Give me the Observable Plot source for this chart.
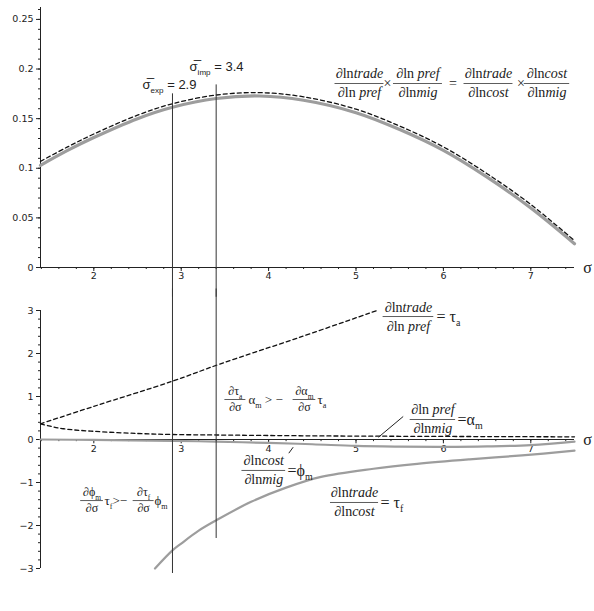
<!DOCTYPE html>
<html><head><meta charset="utf-8">
<script src="https://cdn.jsdelivr.net/npm/d3@7"></script>
<script src="https://cdn.jsdelivr.net/npm/@observablehq/plot@0.6"></script>
<style>
body{margin:0;background:#fff}
#chart{position:relative;width:594px;height:611px;background:#fff}
#chart svg{position:absolute;left:0}
</style>
</head><body><div id="chart"></div>
<script>
// ---------- data ----------
const sigmaTop = [1.39, 1.7, 2.0, 2.5, 2.9, 3.4, 3.9, 4.4, 5.0, 5.5, 6.0, 6.5, 7.0, 7.5];
const tradeMigModel = [0.103, 0.118, 0.131, 0.150, 0.1615, 0.1703, 0.1728, 0.1685, 0.156, 0.139, 0.118, 0.091, 0.060, 0.024];
const tradeMigProduct = [0.107, 0.1215, 0.1345, 0.1535, 0.165, 0.1738, 0.1762, 0.172, 0.1595, 0.1425, 0.1215, 0.0945, 0.0635, 0.027];

const sigmaTauA = [1.39, 2.0, 2.9, 3.45, 4.36, 5.24];
const tauA = [0.365, 0.77, 1.356, 1.76, 2.38, 3.0];

const sigmaAlpha = [1.39, 1.5, 1.65, 2.0, 2.5, 2.9, 3.4, 4.5, 5.5, 6.5, 7.5];
const alphaM = [0.365, 0.31, 0.25, 0.19, 0.14, 0.116, 0.105, 0.085, 0.075, 0.068, 0.062];

const sigmaPhi = [1.39, 2.0, 2.9, 3.4, 4.0, 4.5, 5.0, 5.5, 6.0, 6.5, 7.0, 7.5];
const phiM = [0, -0.01, -0.03, -0.05, -0.08, -0.11, -0.15, -0.165, -0.17, -0.16, -0.13, -0.05];

const sigmaTauF = [2.70, 2.9, 3.0, 3.2, 3.4, 3.8, 4.2, 4.6, 5.2, 5.7, 6.3, 6.9, 7.5];
const tauF = [-3.0, -2.58, -2.42, -2.12, -1.88, -1.45, -1.12, -0.87, -0.68, -0.565, -0.46, -0.37, -0.26];

const thresholdSigma = [2.9, 3.4];
const thresholdName = ["exp", "imp"];

const xMajorTicks = [2, 3, 4, 5, 6, 7];
const yTopTicks = [0, 0.05, 0.1, 0.15, 0.2, 0.25];
const yBottomTicks = [-3, -2, -1, 0, 1, 2, 3];

// ---------- annotations (data coordinates) ----------
const thresholdNotes = [
  {sigma: 2.9, top: 0.175, bottom: -3.116, lx: 2.866, ly: 0.1844},
  {sigma: 3.4, top: 0.184, bottom: -2.302, lx: 3.404, ly: 0.2025}
];
const topFractions = [
  {x: 5.040, y: 0.1854, w: 0.28, num: "∂ln*trade*", den: "∂ln *pref*"},
  {x: 5.709, y: 0.1854, w: 0.28, num: "∂ln *pref*", den: "∂ln*mig*"},
  {x: 6.516, y: 0.1854, w: 0.28, num: "∂ln*trade*", den: "∂ln*cost*"},
  {x: 7.185, y: 0.1854, w: 0.26, num: "∂ln*cost*", den: "∂ln*mig*"}
];
const topOperators = [
  {x: 5.360, y: 0.1854, text: "×"},
  {x: 6.110, y: 0.1854, text: "="},
  {x: 6.888, y: 0.1854, text: "×"}
];
const bottomFractions = [
  {x: 5.60, y: 2.86, w: 0.29, num: "∂ln*trade*", den: "∂ln *pref*"},
  {x: 5.88, y: 0.465, w: 0.26, num: "∂ln *pref*", den: "∂ln*mig*"},
  {x: 3.945, y: -0.72, w: 0.25, num: "∂ln*cost*", den: "∂ln*mig*"},
  {x: 4.983, y: -1.465, w: 0.275, num: "∂ln*trade*", den: "∂ln*cost*"}
];
const bottomSuffixes = [
  {x: 5.921, y: 2.86, text: "= τ_{a}"},
  {x: 6.161, y: 0.465, text: "=α_{m}"},
  {x: 4.216, y: -0.72, text: "=ϕ_{m}"},
  {x: 5.28, y: -1.465, text: "= τ_{f}"}
];
const smallFractions = [
  {x: 3.62, y: 0.93, w: 0.12, num: "∂τ_{a}", den: "∂σ"},
  {x: 4.41, y: 0.93, w: 0.13, num: "∂α_{m}", den: "∂σ"},
  {x: 1.98, y: -1.42, w: 0.13, num: "∂ϕ_{m}", den: "∂σ"},
  {x: 2.57, y: -1.42, w: 0.12, num: "∂τ_{f}", den: "∂σ"}
];
const smallInline = [
  {x: 3.77, y: 0.93, text: "α_{m} > −"},
  {x: 4.559, y: 0.93, text: "τ_{a}"},
  {x: 2.122, y: -1.42, text: "τ_{f}>−"},
  {x: 2.694, y: -1.42, text: "ϕ_{m}"}
];
const leaders = [
  {x1: 5.54, y1: 0.535, x2: 5.257, y2: 0.053},
  {x1: 4.281, y1: -0.179, x2: 4.231, y2: -0.319}
];

// ---------- build tables ----------
const zip = (xs, ys) => xs.map((x, i) => ({sigma: x, value: ys[i]}));
const topModel = zip(sigmaTop, tradeMigModel);
const topProduct = zip(sigmaTop, tradeMigProduct);
const tauAData = zip(sigmaTauA, tauA);
const alphaData = zip(sigmaAlpha, alphaM);
const phiData = zip(sigmaPhi, phiM);
const tauFData = zip(sigmaTauF, tauF);
const thresholds = thresholdNotes.map((d, i) => ({...d, label: `σ̅_{${thresholdName[i]}} = ${thresholdSigma[i]}`}));

const X_DOMAIN = [1.39, 7.5];
const xMinor = d3.range(7, 38).map(i => i / 5);
const yTopMinor = d3.range(0, 27).map(i => i / 100);
const yBottomMinor = d3.range(-15, 16).map(i => i / 5);
const tickFont = "DejaVu Sans";
const serif = "'Liberation Serif', 'DejaVu Serif', serif";
const fmt = d => (d < 0 ? "−" + Math.abs(d) : String(d));

function fractionMarks(list, size, gap) {
  return [
    Plot.ruleY(list, {y: "y", x1: d => d.x - d.w, x2: d => d.x + d.w, stroke: "#333", strokeWidth: 0.8}),
    Plot.text(list, {x: "x", y: "y", text: "num", dy: -gap, fontSize: size, fontFamily: serif, fontWeight: "normal"}),
    Plot.text(list, {x: "x", y: "y", text: "den", dy: gap, fontSize: size, fontFamily: serif, fontWeight: "normal"})
  ];
}

const topPlot = Plot.plot({
  width: 594, height: 290,
  marginLeft: 40, marginRight: 20, marginTop: 7, marginBottom: 23,
  style: {fontFamily: serif, fontSize: "13px", color: "#222", background: "transparent", overflow: "visible"},
  x: {domain: X_DOMAIN, axis: null},
  y: {domain: [0, 0.262], axis: null},
  marks: [
    Plot.ruleY([0], {stroke: "#222"}),
    Plot.ruleX([X_DOMAIN[0]], {stroke: "#222"}),
    Plot.axisY({ticks: yTopMinor, tickSize: 2, tickFormat: () => "", label: null}),
    Plot.axisY({ticks: yTopTicks, tickSize: 4, tickPadding: 3, tickFormat: fmt, label: null, fontFamily: tickFont, fontSize: 9.5}),
    Plot.axisX({ticks: xMinor, tickSize: 2, tickFormat: () => "", label: null}),
    Plot.axisX({ticks: xMajorTicks, tickSize: 4, tickPadding: 1, tickFormat: fmt, label: null, fontFamily: tickFont, fontSize: 9.5}),
    Plot.line(topModel, {x: "sigma", y: "value", stroke: "#9d9d9d", strokeWidth: 3.2, curve: "catmull-rom"}),
    Plot.line(topProduct, {x: "sigma", y: "value", stroke: "#111", strokeWidth: 1.3, strokeDasharray: "4,3", curve: "catmull-rom"}),
    Plot.ruleX(thresholds, {x: "sigma", y1: "top", y2: -0.03, stroke: "#333", strokeWidth: 1}),
    Plot.text(thresholds, {x: "lx", y: "ly", text: "label", fontFamily: "'Liberation Sans', sans-serif", fontSize: 13}),
    ...fractionMarks(topFractions, 14, 9.5),
    Plot.text(topOperators, {x: "x", y: "y", text: "text", fontSize: 14, fontFamily: serif}),
    Plot.text(["σ"], {x: X_DOMAIN[1], y: 0, dx: 13, text: d => d, fontSize: 16, fontFamily: serif})
  ]
});

const bottomPlot = Plot.plot({
  width: 594, height: 321,
  marginLeft: 40, marginRight: 20, marginTop: 20, marginBottom: 43,
  style: {fontFamily: serif, fontSize: "13px", color: "#222", background: "transparent", overflow: "visible"},
  x: {domain: X_DOMAIN, axis: null},
  y: {domain: [-3, 3], axis: null},
  marks: [
    Plot.ruleY([0], {stroke: "#222"}),
    Plot.ruleX([X_DOMAIN[0]], {stroke: "#222"}),
    Plot.axisY({ticks: yBottomMinor, tickSize: 2, tickFormat: () => "", label: null}),
    Plot.axisY({ticks: yBottomTicks, tickSize: 4, tickPadding: 3, tickFormat: fmt, label: null, fontFamily: tickFont, fontSize: 9.5}),
    Plot.ruleX(xMinor, {x: d => d, y1: 0, y2: -0.05, stroke: "#222"}),
    Plot.ruleX(xMajorTicks, {x: d => d, y1: 0, y2: -0.1, stroke: "#222"}),
    Plot.text(xMajorTicks, {x: d => d, y: 0, dy: 9, text: fmt, fontFamily: tickFont, fontSize: 9.5}),
    Plot.line(phiData, {x: "sigma", y: "value", stroke: "#9d9d9d", strokeWidth: 2.2, curve: "catmull-rom"}),
    Plot.line(tauFData, {x: "sigma", y: "value", stroke: "#9d9d9d", strokeWidth: 2.2, curve: "catmull-rom"}),
    Plot.line(tauAData, {x: "sigma", y: "value", stroke: "#111", strokeWidth: 1.3, strokeDasharray: "4,3", curve: "catmull-rom"}),
    Plot.line(alphaData, {x: "sigma", y: "value", stroke: "#111", strokeWidth: 1.3, strokeDasharray: "4,3", curve: "catmull-rom"}),
    Plot.ruleX(thresholds, {x: "sigma", y1: 3.5, y2: "bottom", stroke: "#333", strokeWidth: 1}),
    Plot.link(leaders, {x1: "x1", y1: "y1", x2: "x2", y2: "y2", stroke: "#222", strokeWidth: 1}),
    ...fractionMarks(bottomFractions, 14, 9.5),
    Plot.text(bottomSuffixes, {x: "x", y: "y", text: "text", textAnchor: "start", fontSize: 16, fontFamily: serif}),
    ...fractionMarks(smallFractions, 12, 8),
    Plot.text(smallInline, {x: "x", y: "y", text: "text", textAnchor: "start", fontSize: 13, fontFamily: serif}),
    Plot.text(["σ"], {x: X_DOMAIN[1], y: 0, dx: 13, text: d => d, fontSize: 16, fontFamily: serif})
  ]
});

// rich text: *italic* and _{subscript}
const NS = "http://www.w3.org/2000/svg";
function rich(svg) {
  svg.querySelectorAll("text").forEach(t => {
    if (t.querySelector("tspan")) return;
    const s = t.textContent;
    if (!/\*|_\{/.test(s)) return;
    const parts = s.split(/(\*[^*]+\*|_\{[^}]+\})/).filter(p => p);
    t.textContent = "";
    let shifted = false;
    for (const p of parts) {
      const ts = document.createElementNS(NS, "tspan");
      if (p.startsWith("_{")) {
        ts.textContent = p.slice(2, -1);
        ts.setAttribute("font-size", "62%");
        ts.setAttribute("dy", "4");
        shifted = true;
      } else {
        if (p.startsWith("*")) {
          ts.textContent = p.slice(1, -1);
          ts.setAttribute("font-style", "italic");
        } else ts.textContent = p;
        if (shifted) { ts.setAttribute("dy", "-4"); shifted = false; }
      }
      t.appendChild(ts);
    }
  });
}
rich(topPlot); rich(bottomPlot);

const chart = document.getElementById("chart");
topPlot.style.top = "0px";
bottomPlot.style.top = "290px";
chart.appendChild(topPlot);
chart.appendChild(bottomPlot);
</script>
</body></html>
